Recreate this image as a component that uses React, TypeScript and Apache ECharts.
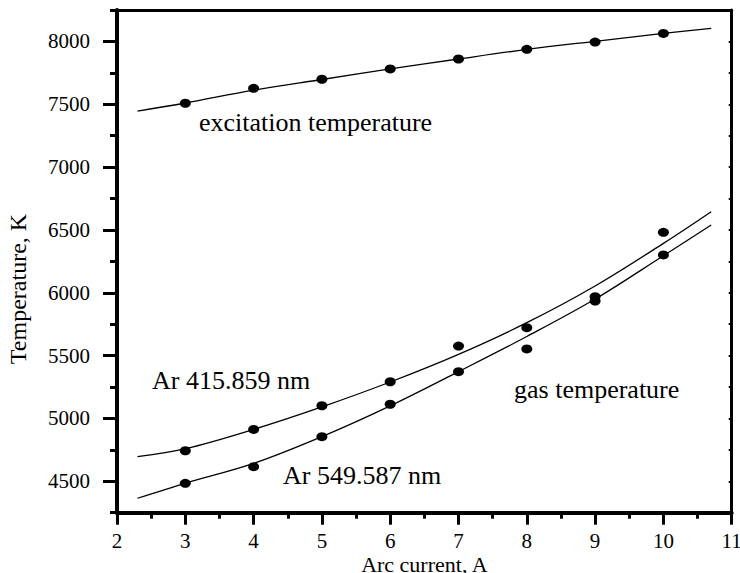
import React, { useEffect, useRef } from "react";
import * as echarts from "echarts";

// measured data (arc current, A  -> temperature, K)
const currents = [3, 4, 5, 6, 7, 8, 9, 10];
const excitationT = [7508, 7627, 7699, 7781, 7860, 7937, 7995, 8064];
const ar415T = [4743, 4913, 5101, 5292, 5576, 5722, 5969, 6481];
const ar549T = [4484, 4616, 4855, 5113, 5372, 5553, 5934, 6301];

// fitted curves
const fitCurrents = [2.3, 3, 4, 5, 6, 7, 8, 9, 10, 10.7];
const excitationFit = [7446, 7510, 7612, 7697, 7781, 7860, 7936, 8001, 8064, 8104];
const ar415Fit = [4696, 4759, 4913, 5092, 5290, 5510, 5762, 6054, 6393, 6645];
const ar549Fit = [4365, 4484, 4642, 4855, 5100, 5372, 5652, 5950, 6295, 6539];

const yLabelValues = [4500, 5000, 5500, 6000, 6500, 7000, 7500, 8000];

const FONT = '"Liberation Serif", "Times New Roman", serif';

const pairs = (xs: number[], ys: number[]) => xs.map((x, i) => [x, ys[i]]);

export default function App() {
  const ref = useRef<HTMLDivElement>(null);
  useEffect(() => {
    document.body.style.margin = "0";
    if (!ref.current) return;
    const chart = echarts.init(ref.current, undefined, { renderer: "svg" });
    const black = "#000000";
    const scatter = (ys: number[]) => ({
      type: "scatter",
      xAxisIndex: 0,
      yAxisIndex: 0,
      data: pairs(currents, ys),
      symbol: "circle",
      symbolSize: [11, 9],
      itemStyle: { color: black, opacity: 1 },
      z: 3,
    });
    const fit = (ys: number[]) => ({
      type: "line",
      xAxisIndex: 0,
      yAxisIndex: 0,
      data: pairs(fitCurrents, ys),
      showSymbol: false,
      symbol: "none",
      smooth: 0.35,
      lineStyle: { color: black, width: 1.3 },
      z: 2,
    });
    const annot = (text: string, x: number, y: number) => ({
      type: "text",
      x,
      y,
      style: {
        text,
        font: `26px ${FONT}`,
        fill: black,
        align: "left",
        verticalAlign: "middle",
      },
    });
    chart.setOption({
      animation: false,
      backgroundColor: "#fff",
      grid: {
        left: 117,
        right: 8.3,
        top: 10,
        bottom: 60.3,
        containLabel: false,
        outerBoundsMode: "none",
      },
      xAxis: [
        {
          type: "value",
          min: 2,
          max: 11,
          interval: 1,
          position: "bottom",
          name: "Arc current, A",
          nameLocation: "middle",
          nameGap: 41,
          nameMoveOverlap: false,
          nameTextStyle: { fontFamily: FONT, fontSize: 22, color: black },
          axisLine: { show: true, onZero: false, lineStyle: { color: black, width: 4, opacity: 1 } },
          axisTick: { show: true, inside: false, length: 12, lineStyle: { color: black, width: 3, opacity: 1 } },
          minorTick: { show: true, splitNumber: 2, length: 6, lineStyle: { color: black, width: 3, opacity: 1 } },
          axisLabel: { margin: 18, fontFamily: FONT, fontSize: 21, color: black },
          splitLine: { show: false },
        },
        {
          type: "value",
          min: 2,
          max: 11,
          interval: 0.5,
          position: "top",
          axisLine: { show: true, onZero: false, lineStyle: { color: black, width: 3, opacity: 1 } },
          axisTick: { show: true, inside: true, length: 2, lineStyle: { color: black, width: 2, opacity: 1 } },
          axisLabel: { show: false },
          splitLine: { show: false },
        },
      ],
      yAxis: [
        {
          type: "value",
          min: 4250,
          max: 8250,
          position: "left",
          axisLine: { show: true, onZero: false, lineStyle: { color: black, width: 4, opacity: 1 } },
          axisTick: {
            show: true,
            inside: false,
            length: 14,
            customValues: yLabelValues,
            lineStyle: { color: black, width: 3, opacity: 1 },
          },
          axisLabel: {
            margin: 27,
            fontFamily: FONT,
            fontSize: 21,
            color: black,
            customValues: yLabelValues,
            formatter: (v: number) => String(v),
          },
          splitLine: { show: false },
        },
        {
          type: "value",
          min: 4250,
          max: 8250,
          interval: 250,
          position: "left",
          axisLine: { show: false, onZero: false },
          axisTick: { show: true, inside: false, length: 7, lineStyle: { color: black, width: 3, opacity: 1 } },
          axisLabel: { show: false },
          splitLine: { show: false },
        },
        {
          type: "value",
          min: 4250,
          max: 8250,
          interval: 250,
          position: "right",
          axisLine: { show: true, onZero: false, lineStyle: { color: black, width: 3, opacity: 1 } },
          axisTick: { show: true, inside: true, length: 3, lineStyle: { color: black, width: 2, opacity: 1 } },
          axisLabel: { show: false },
          splitLine: { show: false },
        },
      ],
      graphic: [
        {
          type: "text",
          x: 18,
          y: 289,
          rotation: Math.PI / 2,
          style: {
            text: "Temperature, K",
            font: `24px ${FONT}`,
            fill: black,
            align: "center",
            verticalAlign: "middle",
          },
        },
        annot("excitation temperature", 199, 122.7),
        annot("Ar 415.859 nm", 152, 380.2),
        annot("Ar 549.587 nm", 283, 475.2),
        annot("gas temperature", 514, 389.2),
      ],
      series: [
        fit(excitationFit),
        fit(ar415Fit),
        fit(ar549Fit),
        scatter(excitationT),
        scatter(ar415T),
        scatter(ar549T),
      ],
    });
    return () => chart.dispose();
  }, []);
  return <div ref={ref} style={{ width: 740, height: 573 }} />;
}
